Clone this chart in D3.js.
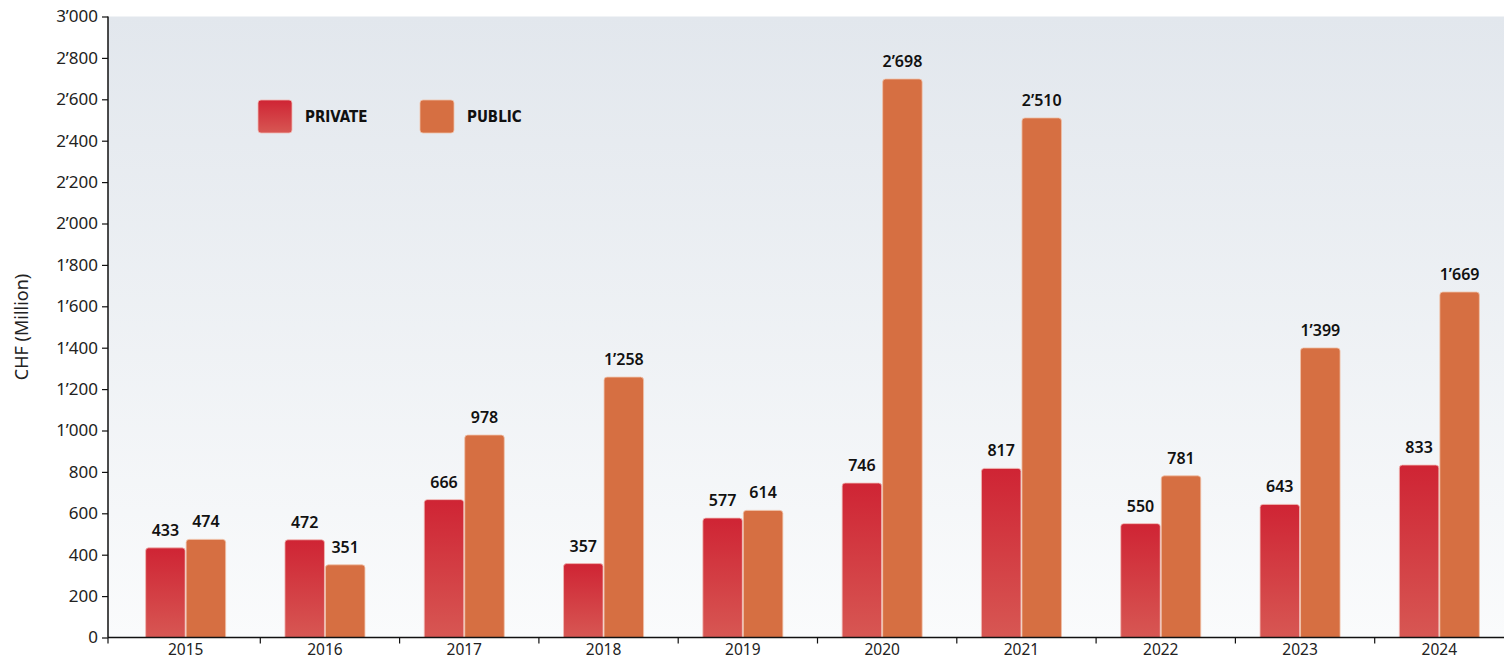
<!DOCTYPE html>
<html lang="en">
<head>
  <meta charset="utf-8">
  <title>CHF (Million)</title>
  <script src="https://d3js.org/d3.v7.min.js"></script>
  <style>
    body { margin: 0; background: #fff; }
    svg { display: block; font-family: "Noto Sans", "Open Sans", sans-serif; }
  </style>
</head>
<body>
<div id="chart"></div>
<script>
  // data
  var years = ["2015", "2016", "2017", "2018", "2019", "2020", "2021", "2022", "2023", "2024"];
  var privateVals = [433, 472, 666, 357, 577, 746, 817, 550, 643, 833];
  var publicVals = [474, 351, 978, 1258, 614, 2698, 2510, 781, 1399, 1669];
  var yTicks = [0, 200, 400, 600, 800, 1000, 1200, 1400, 1600, 1800, 2000, 2200, 2400, 2600, 2800, 3000];
  var seriesNames = ["PRIVATE", "PUBLIC"];

  var W = 1504, H = 661;
  var axisX = 108, plotTop = 16.5, plotBottom = 637.5;

  var fmt = function (v) { return d3.format(",")(v).replace(/,/g, "\u2019"); };

  var svg = d3.select("#chart").append("svg")
    .attr("width", W).attr("height", H);

  var defs = svg.append("defs");
  var bg = defs.append("linearGradient").attr("id", "bg")
    .attr("x1", 0).attr("y1", 0).attr("x2", 0).attr("y2", 1);
  bg.append("stop").attr("offset", "0%").attr("stop-color", "#e2e7ed");
  bg.append("stop").attr("offset", "100%").attr("stop-color", "#fafbfc");

  var gp = defs.append("linearGradient").attr("id", "gPriv")
    .attr("x1", 0).attr("y1", 0).attr("x2", 0).attr("y2", 1);
  gp.append("stop").attr("offset", "0%").attr("stop-color", "#cf2434");
  gp.append("stop").attr("offset", "100%").attr("stop-color", "#d75753");

  var x = d3.scaleBand()
    .domain(years)
    .range([116, 116 + 139.3 * years.length]);

  var x1 = d3.scaleBand()
    .domain(["private", "public"])
    .range([-40, 40])
    .paddingInner(0.025);

  var y = d3.scaleLinear()
    .domain([0, 3000])
    .range([plotBottom, plotTop]);

  // plot background
  svg.append("rect")
    .attr("x", axisX).attr("y", plotTop)
    .attr("width", W - axisX).attr("height", plotBottom - plotTop)
    .attr("fill", "url(#bg)");

  // rounded-top bar path
  function barPath(x0, w, yTop, yBot) {
    var r = Math.min(3, (yBot - yTop) / 2);
    return "M" + x0 + "," + yBot +
      "V" + (yTop + r) +
      "Q" + x0 + "," + yTop + " " + (x0 + r) + "," + yTop +
      "H" + (x0 + w - r) +
      "Q" + (x0 + w) + "," + yTop + " " + (x0 + w) + "," + (yTop + r) +
      "V" + yBot + "Z";
  }

  var groups = svg.append("g").selectAll("g")
    .data(years)
    .enter().append("g")
    .attr("transform", function (d) { return "translate(" + (x(d) + x.bandwidth() / 2) + ",0)"; });

  groups.append("path")
    .attr("d", function (d, i) { return barPath(x1("private"), x1.bandwidth(), y(privateVals[i]), y(0)); })
    .attr("fill", "url(#gPriv)")
    .attr("stroke", "#f1b9b4").attr("stroke-width", 0.8);

  groups.append("path")
    .attr("d", function (d, i) { return barPath(x1("public"), x1.bandwidth(), y(publicVals[i]), y(0)); })
    .attr("fill", "#d66f42")
    .attr("stroke", "#f0c2a8").attr("stroke-width", 0.8);

  // value labels
  groups.append("text")
    .attr("x", x1("private") + x1.bandwidth() / 2)
    .attr("y", function (d, i) { return y(privateVals[i]) - 12; })
    .attr("text-anchor", "middle")
    .attr("font-size", 16).attr("font-weight", 600).attr("fill", "#111")
    .text(function (d, i) { return fmt(privateVals[i]); });

  groups.append("text")
    .attr("x", x1("public") + x1.bandwidth() / 2)
    .attr("y", function (d, i) { return y(publicVals[i]) - 12; })
    .attr("text-anchor", "middle")
    .attr("font-size", 16).attr("font-weight", 600).attr("fill", "#111")
    .text(function (d, i) { return fmt(publicVals[i]); });

  // y axis
  var yAxis = svg.append("g")
    .attr("transform", "translate(" + axisX + ",0)")
    .call(d3.axisLeft(y).tickValues(yTicks).tickFormat(fmt).tickSize(6).tickPadding(4));
  yAxis.select(".domain").attr("stroke", "#111").attr("stroke-width", 1.5)
    .attr("d", "M0," + plotTop + "V" + plotBottom);
  yAxis.selectAll(".tick line").attr("stroke", "#111").attr("stroke-width", 1.2);
  yAxis.selectAll(".tick text").attr("font-size", 17).attr("fill", "#222")
    .attr("font-family", "'Noto Sans', sans-serif");

  // x axis
  var xAxis = svg.append("g")
    .attr("transform", "translate(0," + plotBottom + ")")
    .call(d3.axisBottom(x).tickSize(0).tickPadding(6));
  xAxis.select(".domain").attr("stroke", "#111").attr("stroke-width", 1.5)
    .attr("d", "M" + axisX + ",0H" + W);
  xAxis.selectAll(".tick text").attr("font-size", 15.5).attr("fill", "#222")
    .attr("font-family", "'Noto Sans', sans-serif");
  xAxis.selectAll(".sep")
    .data(years.slice(1))
    .enter().append("line")
    .attr("class", "sep")
    .attr("x1", function (d) { return x(d) + 5; })
    .attr("x2", function (d) { return x(d) + 5; })
    .attr("y1", 0).attr("y2", 6)
    .attr("stroke", "#111").attr("stroke-width", 1.2);
  xAxis.append("line")
    .attr("x1", axisX).attr("x2", axisX).attr("y1", 0).attr("y2", 6)
    .attr("stroke", "#111").attr("stroke-width", 1.2);

  // y axis title
  svg.append("text")
    .attr("transform", "translate(28," + ((plotTop + plotBottom) / 2) + ") rotate(-90)")
    .attr("text-anchor", "middle")
    .attr("font-size", 18).attr("fill", "#222")
    .text("CHF (Million)");

  // legend
  var legendX = [258, 420];
  var legendFill = ["url(#gPriv)", "#d66f42"];
  var lg = svg.append("g").selectAll("g")
    .data(seriesNames)
    .enter().append("g")
    .attr("transform", function (d, i) { return "translate(" + legendX[i] + ",100)"; });
  lg.append("rect")
    .attr("width", 34).attr("height", 33).attr("rx", 3)
    .attr("fill", function (d, i) { return legendFill[i]; })
    .attr("stroke", function (d, i) { return i === 0 ? "#f1b9b4" : "#f0c2a8"; })
    .attr("stroke-width", 0.8);
  lg.append("text")
    .attr("x", 47).attr("y", 22)
    .attr("font-size", 15).attr("font-weight", "bold").attr("fill", "#111")
    .attr("font-family", "'DejaVu Sans Condensed', 'Noto Sans', sans-serif")
    .text(function (d) { return d; });
</script>
</body>
</html>
